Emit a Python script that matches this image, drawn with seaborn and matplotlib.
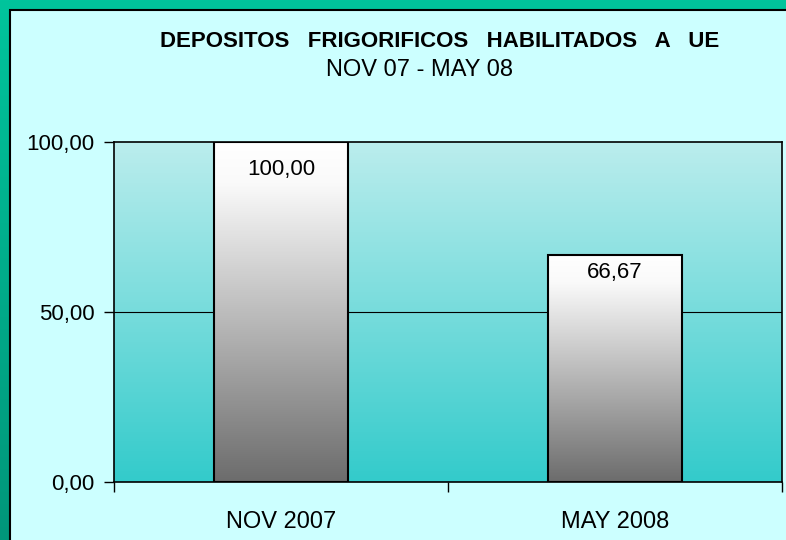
import numpy as np
import pandas as pd
import matplotlib
matplotlib.use("Agg")
import matplotlib.pyplot as plt
from matplotlib.patches import Rectangle
from matplotlib.colors import LinearSegmentedColormap
import seaborn as sns

# ---- data ----
categories = ["NOV 2007", "MAY 2008"]
values = [100.00, 66.67]
value_labels = ["100,00", "66,67"]
ytick_values = [0, 50, 100]
ytick_labels = ["0,00", "50,00", "100,00"]
title = "DEPOSITOS   FRIGORIFICOS   HABILITADOS   A   UE"
subtitle = "NOV 07 - MAY 08"

sns.set_theme(style="white")
plt.rcParams["font.family"] = ["Liberation Sans", "DejaVu Sans"]

W, H = 786, 540
fig = plt.figure(figsize=(W / 100, H / 100), dpi=100)

# green frame background
bg = fig.add_axes([0, 0, 1, 1], zorder=-10)
bg.set_axis_off()
green = LinearSegmentedColormap.from_list("g", ["#00c49c", "#00967a"])
bg.imshow(np.linspace(0, 1, 256).reshape(-1, 1), aspect="auto", cmap=green,
          extent=[0, 1, 0, 1], origin="upper")
bg.set_xlim(0, 1)
bg.set_ylim(0, 1)
bg.add_patch(Rectangle((10 / W, -0.01), 1.0, 1 - 10 / H + 0.01,
                       facecolor="#ccffff", edgecolor="black", lw=1.5))

ax = fig.add_axes([114 / W, 1 - 482 / H, (782 - 114) / W, (482 - 142) / H])

df = pd.DataFrame({"cat": categories, "val": values})
sns.barplot(data=df, x="cat", y="val", ax=ax, width=0.4,
            facecolor="none", edgecolor="black", linewidth=1.5, zorder=3)

ax.set_xlim(-0.5, len(categories) - 0.5)
ax.set_ylim(0, 100)

# axes background gradient
axcm = LinearSegmentedColormap.from_list("a", ["#bbeded", "#33cbcb"])
ax.imshow(np.linspace(0, 1, 256).reshape(-1, 1), aspect="auto", cmap=axcm,
          extent=[-0.5, len(categories) - 0.5, 0, 100], origin="upper", zorder=0)

# bar gradients
barcm = LinearSegmentedColormap.from_list(
    "b", [(0.0, "#ffffff"), (0.12, "#fafafa"), (1.0, "#6c6c6c")])
for p in ax.patches:
    x0, y0 = p.get_x(), p.get_y()
    w, h = p.get_width(), p.get_height()
    ax.imshow(np.linspace(0, 1, 256).reshape(-1, 1), aspect="auto", cmap=barcm,
              extent=[x0, x0 + w, y0, y0 + h], origin="upper", zorder=2)
ax.set_xlim(-0.5, len(categories) - 0.5)
ax.set_ylim(0, 100)

# gridline
ax.axhline(50, color="black", lw=0.8, zorder=1)

for sp in ax.spines.values():
    sp.set_visible(True)
    sp.set_color("black")
    sp.set_linewidth(1.2)

ax.set_yticks(ytick_values)
ax.set_yticklabels(ytick_labels)
ax.set_xticks(range(len(categories)))
ax.set_xticklabels(categories)
ax.set_xticks([-0.5, 0.5, 1.5], minor=True)
ax.tick_params(axis="x", which="major", length=0, pad=21, labelsize=17, colors="black")
ax.tick_params(axis="x", which="minor", length=7, width=1, direction="out", bottom=True, color="black")
ax.tick_params(axis="y", which="major", length=7, width=1, direction="out", left=True,
               pad=7, labelsize=16, colors="black")
ax.set_xlabel("")
ax.set_ylabel("")

offsets = [-27, -17]
for i, (v, lab) in enumerate(zip(values, value_labels)):
    ax.annotate(lab, (i, v), xytext=(0, offsets[i] * 0.72), textcoords="offset points",
                ha="center", va="center", fontsize=16, color="black", zorder=5)

fig.text(440 / W, 1 - 42 / H, title, ha="center", va="center", fontsize=16,
         fontweight="bold", color="black")
fig.text(419 / W, 1 - 70 / H, subtitle, ha="center", va="center", fontsize=17,
         color="black")

fig.savefig("out.png", dpi=100)
